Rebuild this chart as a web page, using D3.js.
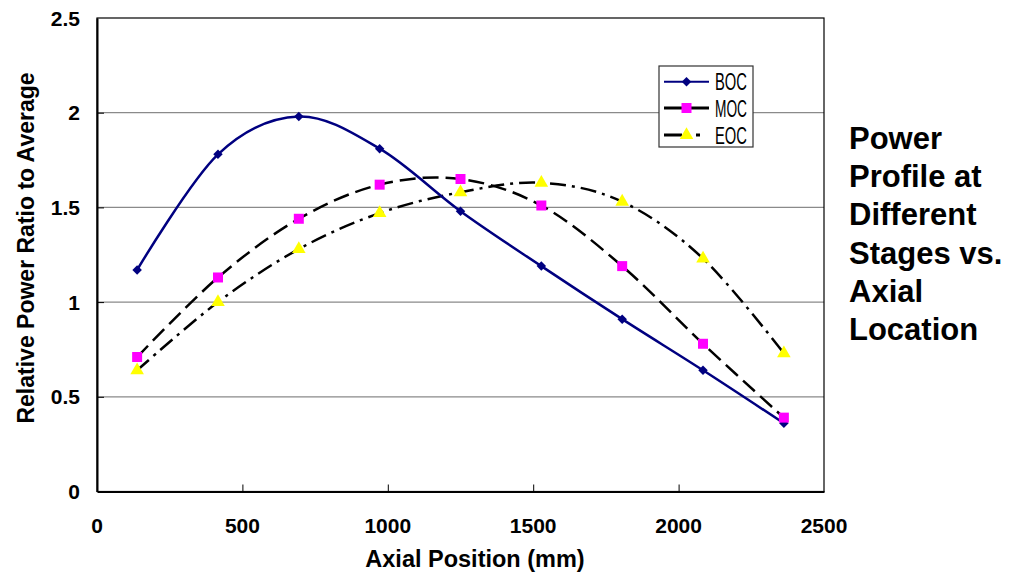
<!DOCTYPE html>
<html>
<head>
<meta charset="utf-8">
<script src="https://cdn.jsdelivr.net/npm/d3@7"></script>
<style>
body{margin:0;background:#fff;}
text{font-family:"Liberation Sans",Arial,sans-serif;}
</style>
</head>
<body>
<script>
var width = 1022;
var height = 573;

// data
var positions = [138, 416, 694, 972, 1250, 1528, 1806, 2084, 2362];
var boc = [1.17, 1.78, 1.98, 1.81, 1.48, 1.19, 0.91, 0.64, 0.36];
var moc = [0.71, 1.13, 1.44, 1.62, 1.65, 1.51, 1.19, 0.78, 0.39];
var eoc = [0.64, 1.00, 1.28, 1.47, 1.58, 1.63, 1.53, 1.23, 0.73];
var xTicks = [0, 500, 1000, 1500, 2000, 2500];
var yTicks = [0, 0.5, 1, 1.5, 2, 2.5];
var seriesNames = ["BOC", "MOC", "EOC"];
var titleLines = ["Power", "Profile at", "Different", "Stages vs.", "Axial", "Location"];

var svg = d3.select("body")
.append("svg")
.attr("width",width)
.attr("height",height);

var pLeft = 97, pRight = 824, pTop = 18, pBottom = 491.5;

var x = d3.scaleLinear()
.domain([0,2500])
.range([pLeft,pRight]);

var y = d3.scaleLinear()
.domain([0,2.5])
.range([pBottom,pTop]);

// gridlines
svg.selectAll(".grid")
.data(yTicks.slice(1,5))
.enter()
.append("line")
.attr("x1",pLeft)
.attr("x2",pRight)
.attr("y1",function(d){ return y(d); })
.attr("y2",function(d){ return y(d); })
.attr("stroke","#8a8a8a")
.attr("stroke-width",1.2);

// plot frame
svg.append("rect")
.attr("x",pLeft)
.attr("y",pTop)
.attr("width",pRight-pLeft)
.attr("height",pBottom-pTop)
.attr("fill","none")
.attr("stroke","#000")
.attr("stroke-width",1.2);

var xAxis = d3.axisTop(x)
.tickValues(xTicks.slice(1,5))
.tickSize(7)
.tickSizeOuter(0)
.tickFormat("");

svg.append("g")
.attr("transform","translate(0,"+pBottom+")")
.call(xAxis)
.call(function(g){ g.select(".domain").attr("stroke-width",2); });

var yAxis = d3.axisRight(y)
.tickValues(yTicks.slice(1,5))
.tickSize(7)
.tickSizeOuter(0)
.tickFormat("");

svg.append("g")
.attr("transform","translate("+pLeft+",0)")
.call(yAxis)
.call(function(g){ g.select(".domain").attr("stroke-width",2); });

// tick labels
svg.selectAll(".xlab")
.data(xTicks)
.enter()
.append("text")
.attr("x",function(d){ return x(d); })
.attr("y",532.5)
.attr("text-anchor","middle")
.attr("font-size","21px")
.attr("font-weight","bold")
.text(function(d){ return d; });

svg.selectAll(".ylab")
.data(yTicks)
.enter()
.append("text")
.attr("x",80)
.attr("y",function(d){ return y(d); })
.attr("dy","0.36em")
.attr("text-anchor","end")
.attr("font-size","21px")
.attr("font-weight","bold")
.text(function(d){ return d; });

// axis titles
svg.append("text")
.attr("x",475)
.attr("y",567)
.attr("text-anchor","middle")
.attr("font-size","23.5px")
.attr("font-weight","bold")
.text("Axial Position (mm)");

svg.append("text")
.attr("transform","translate(34,248) rotate(-90)")
.attr("text-anchor","middle")
.attr("font-size","23px")
.attr("font-weight","bold")
.text("Relative Power Ratio to Average");

// lines
var line = d3.line()
.x(function(d,i){ return x(positions[i]); })
.y(function(d){ return y(d); })
.curve(d3.curveCardinal.tension(0));

svg.append("path")
.attr("d",line(eoc))
.attr("fill","none")
.attr("stroke","#000")
.attr("stroke-width",2.5)
.attr("stroke-dasharray","16,6,3,6");

svg.append("path")
.attr("d",line(moc))
.attr("fill","none")
.attr("stroke","#000")
.attr("stroke-width",2.5)
.attr("stroke-dasharray","16,7");

svg.append("path")
.attr("d",line(boc))
.attr("fill","none")
.attr("stroke","#000080")
.attr("stroke-width",2.5);

// markers (diamond = square turned 45 degrees)
var diamond = d3.symbol().type(d3.symbolSquare).size(45);
var square = d3.symbol().type(d3.symbolSquare).size(100);
var triangle = d3.symbol().type(d3.symbolTriangle).size(80);

svg.selectAll(".boc")
.data(boc)
.enter()
.append("path")
.attr("d",diamond)
.attr("transform",function(d,i){ return "translate("+x(positions[i])+","+y(d)+") rotate(45)"; })
.attr("fill","#000080");

svg.selectAll(".moc")
.data(moc)
.enter()
.append("path")
.attr("d",square)
.attr("transform",function(d,i){ return "translate("+x(positions[i])+","+y(d)+")"; })
.attr("fill","#ff00ff");

svg.selectAll(".eoc")
.data(eoc)
.enter()
.append("path")
.attr("d",triangle)
.attr("transform",function(d,i){ return "translate("+x(positions[i])+","+y(d)+")"; })
.attr("fill","#ffff00");

// legend
var legend = svg.append("g")
.attr("transform","translate(659,66)");

legend.append("rect")
.attr("width",94)
.attr("height",81)
.attr("fill","#fff")
.attr("stroke","#333")
.attr("stroke-width",1.2);

var rowY = [15.7, 42, 69];
var colors = ["#000080", "#000", "#000"];
var shapes = [diamond, square, triangle];
var fills = ["#000080", "#ff00ff", "#ffff00"];

for(i = 0; i < seriesNames.length; i++){
	legend.append("line")
	.attr("x1",5)
	.attr("x2",i == 2 ? 41 : 50)
	.attr("y1",rowY[i])
	.attr("y2",rowY[i])
	.attr("stroke",colors[i])
	.attr("stroke-width",i == 0 ? 2 : 3)
	.attr("stroke-dasharray",i == 2 ? "18,14,9" : null);
	legend.append("path")
	.attr("d",shapes[i])
	.attr("transform","translate(27.5,"+rowY[i]+")"+(i == 0 ? " rotate(45)" : ""))
	.attr("fill",fills[i]);
	legend.append("text")
	.attr("x",56)
	.attr("y",rowY[i]+8.5)
	.attr("font-size","23px")
	.attr("textLength",32)
	.attr("lengthAdjust","spacingAndGlyphs")
	.text(seriesNames[i]);
}

// side title
svg.append("text")
.attr("font-size","31px")
.attr("font-weight","bold")
.selectAll("tspan")
.data(titleLines)
.enter()
.append("tspan")
.attr("x",849)
.attr("y",function(d,i){ return 149 + i * 38.2; })
.text(function(d){ return d; });
</script>
</body>
</html>
